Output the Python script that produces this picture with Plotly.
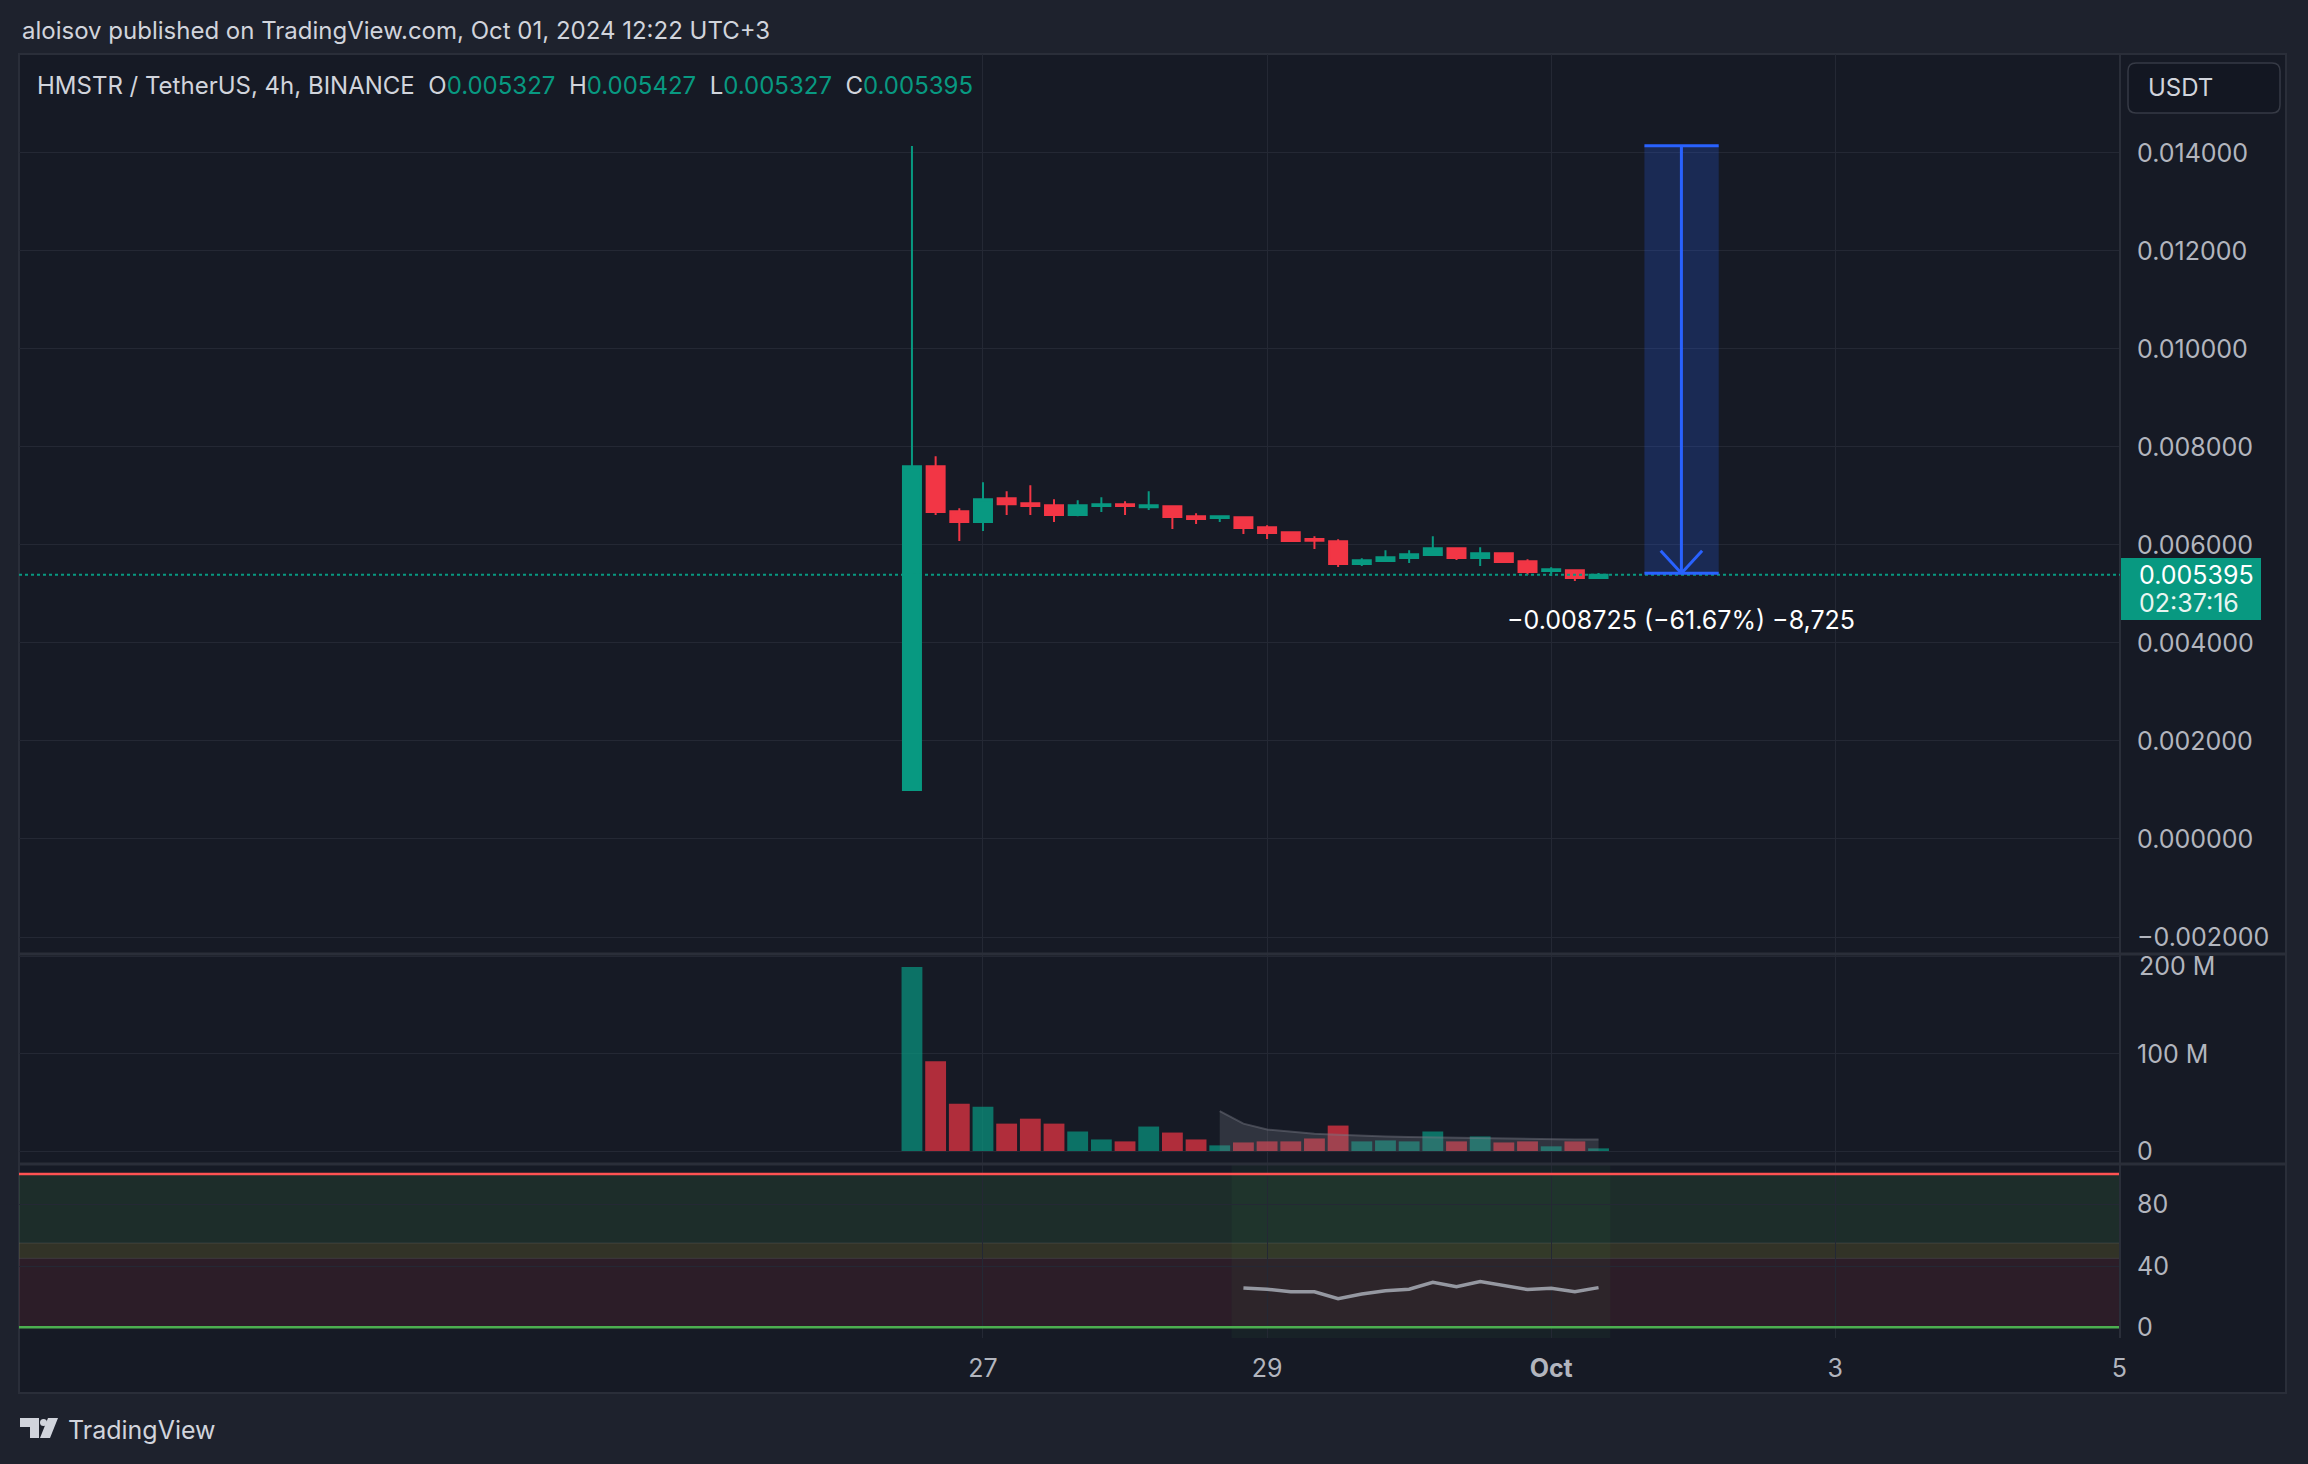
import pandas as pd
import plotly.graph_objects as go
from plotly.subplots import make_subplots

# HMSTR / USDT, 4h candles on Binance (chart time UTC+3)
candle_start = "2024-09-26 12:00"
opens = [0.001000, 0.007605, 0.006687, 0.006469, 0.006952, 0.006850, 0.006810, 0.006612,
         0.006796, 0.006830, 0.006769, 0.006789, 0.006585, 0.006551, 0.006565, 0.006361,
         0.006258, 0.006122, 0.006075, 0.005612, 0.005673, 0.005735, 0.005796, 0.005932,
         0.005735, 0.005830, 0.005667, 0.005469, 0.005483, 0.005327]
highs = [0.014140, 0.007810, 0.006748, 0.007279, 0.007095, 0.007218, 0.006932, 0.006912,
         0.006973, 0.006891, 0.007095, 0.006789, 0.006646, 0.006585, 0.006585, 0.006401,
         0.006279, 0.006177, 0.006116, 0.005728, 0.005891, 0.005891, 0.006177, 0.005952,
         0.005952, 0.005850, 0.005707, 0.005544, 0.005503, 0.005427]
lows = [0.001000, 0.006612, 0.006082, 0.006286, 0.006612, 0.006612, 0.006469, 0.006585,
        0.006674, 0.006612, 0.006714, 0.006327, 0.006429, 0.006469, 0.006224, 0.006122,
        0.006061, 0.005918, 0.005551, 0.005571, 0.005673, 0.005633, 0.005796, 0.005694,
        0.005571, 0.005653, 0.005395, 0.005367, 0.005265, 0.005327]
closes = [0.007605, 0.006674, 0.006469, 0.006932, 0.006830, 0.006796, 0.006612, 0.006810,
          0.006830, 0.006796, 0.006810, 0.006571, 0.006531, 0.006585, 0.006347, 0.006245,
          0.006082, 0.006089, 0.005612, 0.005687, 0.005748, 0.005810, 0.005932, 0.005735,
          0.005830, 0.005653, 0.005449, 0.005503, 0.005327, 0.005395]
volumes = [189.5e6, 92.5e6, 48.6e6, 45.6e6, 28.2e6, 33.3e6, 28.2e6, 20.1e6, 11.9e6, 9.9e6,
           25.2e6, 19.0e6, 11.9e6, 5.8e6, 8.8e6, 9.9e6, 9.9e6, 12.9e6, 26.2e6, 9.9e6,
           10.9e6, 9.9e6, 20.1e6, 9.9e6, 15.0e6, 8.8e6, 9.9e6, 4.8e6, 9.9e6, 2.7e6]
vol_ma = [None] * 13 + [41.2e6, 28.2e6, 22.1e6, 19.7e6, 17.7e6, 16.7e6, 15.6e6, 15.0e6,
                        14.3e6, 13.9e6, 13.6e6, 13.3e6, 12.9e6, 12.6e6, 12.2e6, 11.9e6, 11.9e6]
rsi = [None] * 14 + [25.6, 24.8, 23.2, 23.2, 18.7, 21.7, 23.9, 24.8,
                     29.3, 26.5, 29.8, 27.2, 24.6, 25.4, 23.2, 25.9]

last_close = 0.005395
countdown = "02:37:16"
measure_high = 0.014148
measure_low = 0.005423

price_ticks = [-0.002, 0.0, 0.002, 0.004, 0.006, 0.008, 0.010, 0.012, 0.014]
vol_ticks = [0, 100e6, 200e6]
vol_ticktext = ["0", "100 M", ""]  # top label drawn separately, it sits under the pane border
rsi_ticks = [0, 40, 80]
x_ticks = ["2024-09-27", "2024-09-29", "2024-10-01", "2024-10-03", "2024-10-05"]
x_ticktext = ["27", "29", "<b>Oct</b>", "3", "5"]

GREEN = "#089981"
RED = "#f23645"
BG = "#161a25"
PAGE = "#1e222d"
GRID = "#242834"
BORDER = "#2a2e39"
TEXT = "#d1d4dc"
AXTEXT = "#b2b5be"
BLUE = "#2962ff"
FONT = "Inter"
FS = 25

W, H = 2308, 1464
L, R, T, B = 19, 2120, 54, 1338  # plot area in pixels


def px(x):
    return (x - L) / (R - L)


def py(y):
    return (B - y) / (B - T)


times = pd.date_range(candle_start, periods=len(closes), freq="4h")
step = pd.Timedelta(hours=4)
vol_colors = ["rgba(8,153,129,0.7)" if c >= o else "rgba(242,54,69,0.7)"
              for o, c in zip(opens, closes)]

fig = make_subplots(rows=3, cols=1, shared_xaxes=True, vertical_spacing=0)

fig.add_trace(go.Candlestick(
    x=times, open=opens, high=highs, low=lows, close=closes,
    increasing=dict(line=dict(color=GREEN, width=2), fillcolor=GREEN),
    decreasing=dict(line=dict(color=RED, width=2), fillcolor=RED),
    whiskerwidth=0, hoverinfo="skip",
), row=1, col=1)

fig.add_trace(go.Bar(
    x=times, y=volumes, marker=dict(color=vol_colors, line=dict(width=0)),
    width=step.total_seconds() * 1000 * 0.88, hoverinfo="skip",
), row=2, col=1)

fig.add_trace(go.Scatter(
    x=times, y=vol_ma, mode="lines", fill="tozeroy",
    line=dict(color="rgba(120,123,134,0.45)", width=2),
    fillcolor="rgba(120,123,134,0.28)", hoverinfo="skip",
), row=2, col=1)

fig.add_trace(go.Scatter(
    x=times, y=rsi, mode="lines",
    line=dict(color="#9598a1", width=3.5), hoverinfo="skip",
), row=3, col=1)

# panes
fig.update_layout(
    yaxis=dict(domain=[py(954), 1]),
    yaxis2=dict(domain=[py(1164), py(954)]),
    yaxis3=dict(domain=[0, py(1164)]),
)

x_range = ["2024-09-20 05:08", "2024-10-05 00:06"]
for i in (1, 2, 3):
    fig.update_xaxes(
        row=i, col=1, range=x_range, type="date",
        tickvals=x_ticks, ticktext=x_ticktext, showticklabels=(i == 3),
        showgrid=True, gridcolor=GRID, gridwidth=1, zeroline=False,
        showline=False, rangeslider_visible=False, ticks="",
        tickfont=dict(family=FONT, size=FS, color=AXTEXT), ticklabelstandoff=13,
    )

axis_common = dict(side="right", showgrid=True, gridcolor=GRID, gridwidth=1,
                   zeroline=False, showline=False, ticks="", ticklabelstandoff=16,
                   tickfont=dict(family=FONT, size=FS, color=AXTEXT))
fig.update_yaxes(row=1, col=1, range=[-0.002347, 0.01602], tickvals=price_ticks,
                 tickformat=".6f", **axis_common)
fig.update_yaxes(row=2, col=1, range=[-13.4e6, 203e6], tickvals=vol_ticks,
                 ticktext=vol_ticktext, **axis_common)
fig.update_yaxes(row=3, col=1, range=[-7, 106.6], tickvals=rsi_ticks, **axis_common)

shapes = []
# outer frame of the chart
shapes.append(dict(type="rect", xref="paper", yref="paper", layer="below",
                   x0=px(19), x1=px(2286), y0=py(54), y1=py(1393),
                   fillcolor=BG, line=dict(color=BORDER, width=2)))

# RSI bands
for lo, hi, col in [(55, 100, "rgba(76,175,80,0.13)"), (45, 55, "rgba(255,235,59,0.12)"),
                    (0, 45, "rgba(242,54,69,0.10)")]:
    shapes.append(dict(type="rect", xref="x3 domain", yref="y3", layer="below",
                       x0=0, x1=1, y0=lo, y1=hi, fillcolor=col, line=dict(width=0)))
for lvl in (45, 55):
    shapes.append(dict(type="line", xref="x3 domain", yref="y3", layer="below",
                       x0=0, x1=1, y0=lvl, y1=lvl,
                       line=dict(color="rgba(120,123,134,0.25)", width=1)))
shapes.append(dict(type="rect", xref="x3", yref="y3 domain", layer="below",
                   x0=times[14] - step / 2, x1=times[-1] + step / 2, y0=0, y1=1,
                   fillcolor="rgba(76,175,80,0.06)", line=dict(width=0)))
shapes.append(dict(type="line", xref="x3 domain", yref="y3", x0=0, x1=1, y0=100, y1=100,
                   line=dict(color="#ff5252", width=2.5)))
shapes.append(dict(type="line", xref="x3 domain", yref="y3", x0=0, x1=1, y0=0, y1=0,
                   line=dict(color="#4caf50", width=2.5)))

# pane separators and price scale border
for yy in (954, 1164):
    shapes.append(dict(type="line", xref="paper", yref="paper", x0=px(19), x1=px(2286),
                       y0=py(yy), y1=py(yy), line=dict(color=BORDER, width=3)))
shapes.append(dict(type="line", xref="paper", yref="paper", x0=1, x1=1,
                   y0=0, y1=py(54), line=dict(color=BORDER, width=2)))

# last price line
shapes.append(dict(type="line", xref="x domain", yref="y", x0=0, x1=1,
                   y0=last_close, y1=last_close, line=dict(color=GREEN, width=2, dash="dot")))

# price range measurement
t_last = times[-1]
m_x0 = t_last + pd.Timedelta(hours=7.75)
m_x1 = t_last + pd.Timedelta(hours=20.3)
m_mid = t_last + pd.Timedelta(hours=14)
arm = pd.Timedelta(hours=3.5)
shapes.append(dict(type="rect", xref="x", yref="y", x0=m_x0, x1=m_x1,
                   y0=measure_low, y1=measure_high,
                   fillcolor="rgba(41,98,255,0.22)", line=dict(width=0)))
for yy in (measure_low, measure_high):
    shapes.append(dict(type="line", xref="x", yref="y", x0=m_x0, x1=m_x1, y0=yy, y1=yy,
                       line=dict(color=BLUE, width=3)))
shapes.append(dict(type="line", xref="x", yref="y", x0=m_mid, x1=m_mid,
                   y0=measure_high, y1=measure_low, line=dict(color=BLUE, width=3)))
for side in (-1, 1):
    shapes.append(dict(type="line", xref="x", yref="y", x0=m_mid + side * arm, x1=m_mid,
                       y0=measure_low + 0.00046, y1=measure_low,
                       line=dict(color=BLUE, width=3)))

# last price tag on the scale
shapes.append(dict(type="rect", xref="paper", yref="paper", x0=px(2121), x1=px(2261),
                   y0=py(620), y1=py(558), fillcolor=GREEN, line=dict(width=0)))

# USDT currency box
ux0, ux1, uy0, uy1 = px(2128), px(2280), py(113), py(63)
rx, ry = 8 / (R - L), 8 / (B - T)
shapes.append(dict(
    type="path", xref="paper", yref="paper",
    path=(f"M{ux0 + rx},{uy1} L{ux1 - rx},{uy1} Q{ux1},{uy1} {ux1},{uy1 - ry} "
          f"L{ux1},{uy0 + ry} Q{ux1},{uy0} {ux1 - rx},{uy0} L{ux0 + rx},{uy0} "
          f"Q{ux0},{uy0} {ux0},{uy0 + ry} L{ux0},{uy1 - ry} Q{ux0},{uy1} {ux0 + rx},{uy1} Z"),
    fillcolor="#131722", line=dict(color="#363a45", width=1.5)))

# TradingView logo mark
shapes.append(dict(type="rect", xref="paper", yref="paper", x0=px(20), x1=px(39),
                   y0=py(1427), y1=py(1418), fillcolor=TEXT, line=dict(width=0)))
shapes.append(dict(type="rect", xref="paper", yref="paper", x0=px(30), x1=px(39),
                   y0=py(1438), y1=py(1418), fillcolor=TEXT, line=dict(width=0)))
shapes.append(dict(type="circle", xref="paper", yref="paper", x0=px(40), x1=px(47),
                   y0=py(1426), y1=py(1419), fillcolor=TEXT, line=dict(width=0)))
shapes.append(dict(type="path", xref="paper", yref="paper", fillcolor=TEXT, line=dict(width=0),
                   path=(f"M{px(48)},{py(1418)} L{px(58)},{py(1418)} "
                         f"L{px(50)},{py(1438)} L{px(40)},{py(1438)} Z")))

change = measure_low - measure_high
pct = change / measure_high * 100
ticks_moved = round(change / 0.000001)
measure_text = (f"{change:.6f} ({pct:.2f}%) {ticks_moved:,}").replace("-", "\u2212")

sp = "&#160;&#160;"
ohlc = sp.join(f"{k}<span style='color:{GREEN}'>{v:.6f}</span>"
               for k, v in zip("OHLC", [opens[-1], highs[-1], lows[-1], closes[-1]]))

annotations = [
    dict(text="aloisov published on TradingView.com, Oct 01, 2024 12:22 UTC+3",
         x=px(20), y=py(31), xanchor="left", yanchor="middle",
         font=dict(family=FONT, size=24, color=TEXT)),
    dict(text="HMSTR / TetherUS, 4h, BINANCE" + sp + ohlc,
         x=px(35), y=py(85), xanchor="left", yanchor="middle",
         font=dict(family=FONT, size=24, color=TEXT)),
    dict(text="USDT", x=px(2146), y=py(88), xanchor="left", yanchor="middle",
         font=dict(family=FONT, size=24, color=TEXT)),
    dict(text=f"{last_close:.6f}", x=px(2137), y=py(575), xanchor="left", yanchor="middle",
         font=dict(family=FONT, size=FS, color="#ffffff")),
    dict(text=countdown, x=px(2137), y=py(603), xanchor="left", yanchor="middle",
         font=dict(family=FONT, size=FS, color="#e8f5f1")),
    dict(text="TradingView", x=px(66), y=py(1430), xanchor="left", yanchor="middle",
         font=dict(family=FONT, size=25, color=TEXT)),
    dict(text="200 M", x=px(2137), y=py(966), xanchor="left", yanchor="middle",
         font=dict(family=FONT, size=FS, color=AXTEXT)),
]
for a in annotations:
    a.update(xref="paper", yref="paper", showarrow=False)
annotations.append(dict(text=measure_text, xref="x", yref="y", x=m_mid, y=0.00447,
                        xanchor="center", yanchor="middle", showarrow=False,
                        font=dict(family=FONT, size=FS, color="#ffffff")))

fig.update_layout(
    width=W, height=H,
    margin=dict(l=L, r=W - R, t=T, b=H - B, pad=0),
    paper_bgcolor=PAGE, plot_bgcolor=BG,
    showlegend=False, boxgap=0.24, boxgroupgap=0, barmode="overlay",
    shapes=shapes, annotations=annotations,
    font=dict(family=FONT, color=TEXT),
    hovermode=False,
)

fig.write_html(
    "out.html",
    config={"displayModeBar": False},
    post_script="document.body.style.margin='0';document.body.style.background='#1e222d';",
)
